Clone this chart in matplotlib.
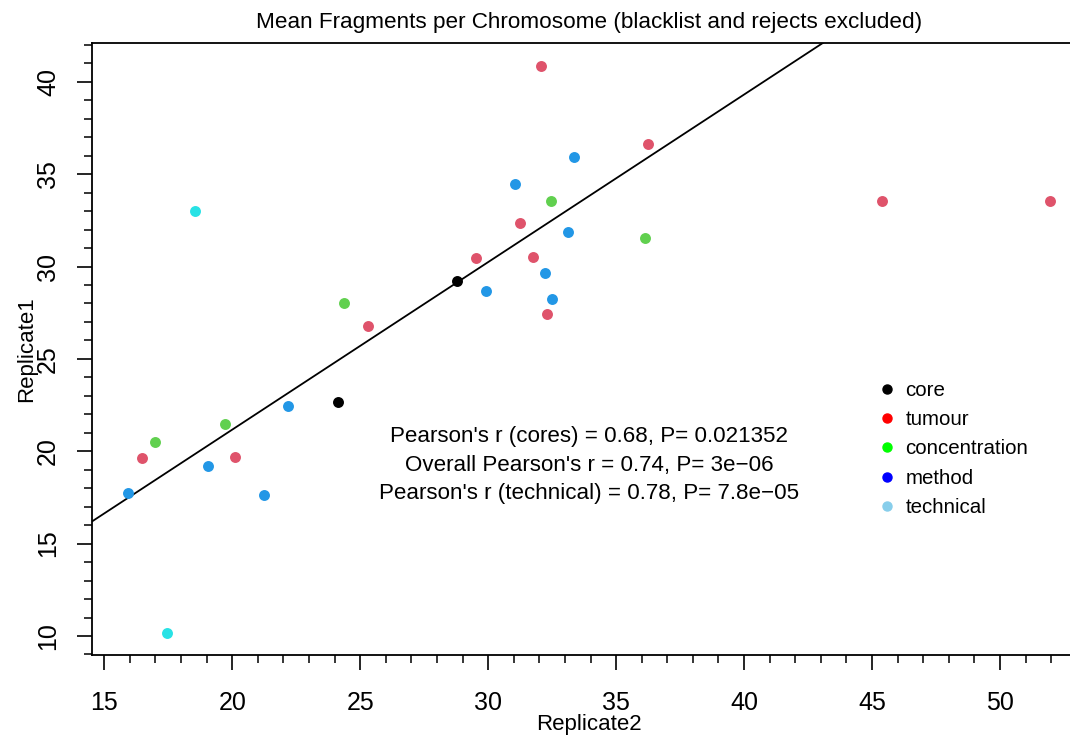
import matplotlib
matplotlib.use("Agg")
import matplotlib.pyplot as plt
from matplotlib.lines import Line2D
from matplotlib.ticker import MultipleLocator

plt.rcParams['font.family'] = ['Liberation Sans', 'DejaVu Sans']

# Mean fragments per chromosome, replicate 2 (x) vs replicate 1 (y)
core_x = [24.13, 28.80]
core_y = [22.66, 29.21]

tumour_x = [32.06, 36.24, 45.38, 51.95, 31.25, 29.54, 31.77, 32.30, 25.31, 16.46, 20.10]
tumour_y = [40.88, 36.65, 33.52, 33.57, 32.38, 30.45, 30.49, 27.41, 26.76, 19.63, 19.71]

concentration_x = [32.44, 36.12, 24.35, 19.72, 16.98]
concentration_y = [33.54, 31.57, 28.04, 21.46, 20.48]

method_x = [33.36, 31.04, 33.13, 32.22, 32.50, 29.90, 22.19, 19.04, 15.94, 21.24]
method_y = [35.92, 34.49, 31.86, 29.63, 28.26, 28.67, 22.45, 19.22, 17.72, 17.61]

technical_x = [18.53, 17.46]
technical_y = [32.98, 10.16]

# fitted line y = a + b*x
fit_a = 3.03
fit_b = 0.907

stats_lines = [
    "Pearson's r (cores) = 0.68, P= 0.021352",
    "Overall Pearson's r = 0.74, P= 3e\u221206",
    "Pearson's r (technical) = 0.78, P= 7.8e\u221205",
]
stats_y = [20.78, 19.24, 17.70]
stats_x = 33.95

legend_labels = ["core", "tumour", "concentration", "method", "technical"]
legend_colors = ["black", "#FF0000", "#00FF00", "#0000FF", "#87CEEB"]

W, H = 1070, 736
fig = plt.figure(figsize=(W / 100, H / 100), dpi=100)
ax_l, ax_r, ax_t, ax_b = 92, 1087, 43, 655
ax = fig.add_axes([ax_l / W, (H - ax_b) / H, (ax_r - ax_l) / W, (ax_b - ax_t) / H])

ms = 62
ax.scatter(tumour_x, tumour_y, s=ms, color="#DF536B", linewidths=0, zorder=3)
ax.scatter(concentration_x, concentration_y, s=ms, color="#61D04F", linewidths=0, zorder=3)
ax.scatter(method_x, method_y, s=ms, color="#2297E6", linewidths=0, zorder=3)
ax.scatter(technical_x, technical_y, s=ms, color="#28E2E5", linewidths=0, zorder=3)
ax.scatter(core_x, core_y, s=ms, color="black", linewidths=0, zorder=3)

ax.set_xlim(14.52, 53.4)
ax.set_ylim(8.97, 42.1)
ax.axline((0, fit_a), slope=fit_b, color="black", lw=1.3, zorder=2)

for sx, sy, s in zip([stats_x] * 3, stats_y, stats_lines):
    ax.text(sx, sy, s, ha="center", va="center", fontsize=16.1)

handles = [Line2D([], [], marker="o", ls="none", color=c, markersize=6.5) for c in legend_colors]
ax.legend(handles, legend_labels, loc="upper left", bbox_to_anchor=(881 / W, (H - 381) / H),
          bbox_transform=fig.transFigure, frameon=False, fontsize=14.75,
          handlelength=0.6, handletextpad=0.6, labelspacing=0.5, borderpad=0, borderaxespad=0)

ax.spines["right"].set_visible(False)
for sp in ax.spines.values():
    sp.set_linewidth(1.3)

ax.xaxis.set_major_locator(MultipleLocator(5))
ax.xaxis.set_minor_locator(MultipleLocator(1))
ax.yaxis.set_major_locator(MultipleLocator(5))
ax.yaxis.set_minor_locator(MultipleLocator(1))
ax.tick_params(which="major", length=11, width=1.2, labelsize=18)
ax.tick_params(which="minor", length=6, width=1.1)
ax.tick_params(axis="x", which="major", pad=15)
ax.tick_params(axis="y", which="major", pad=12, labelrotation=90)
for lab in ax.get_yticklabels():
    lab.set_va("center")

ax.set_xlabel("Replicate2", fontsize=16)
ax.xaxis.set_label_coords((589 - ax_l) / (ax_r - ax_l), (ax_b - 714) / (ax_b - ax_t))
ax.set_ylabel("Replicate1", fontsize=16)
ax.yaxis.set_label_coords((37 - ax_l) / (ax_r - ax_l), 0.5)

ax.set_title("Mean Fragments per Chromosome (blacklist and rejects excluded)", fontsize=16.2, pad=11)

fig.savefig("out.png", dpi=100)
